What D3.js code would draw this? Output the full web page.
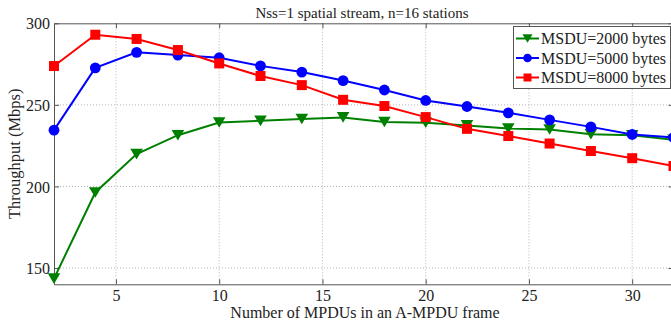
<!DOCTYPE html>
<html>
<head>
<meta charset="utf-8">
<script src="https://cdn.jsdelivr.net/npm/d3@7"></script>
<style>
  html, body { margin: 0; padding: 0; background: #fff; }
  svg { display: block; }
  text { font-family: "Liberation Serif", "DejaVu Serif", serif; fill: #222; }
</style>
</head>
<body>
<svg id="chart" width="671" height="324"></svg>
<script>
// ---- data ----
const mpdus = [2, 4, 6, 8, 10, 12, 14, 16, 18, 20, 22, 24, 26, 28, 30, 32];
const msdu2000 = [143.5, 196.3, 219.8, 231.4, 239.2, 240.2, 241.3, 242.3, 239.5, 239.0, 237.4, 235.5, 234.9, 232.0, 231.4, 228.6];
const msdu5000 = [234.5, 272.7, 282.2, 280.5, 278.9, 273.9, 270.1, 264.9, 259.1, 252.7, 249.0, 245.1, 240.8, 236.5, 231.9, 230.0];
const msdu8000 = [273.8, 293.0, 290.4, 283.6, 275.4, 267.7, 262.1, 253.1, 249.3, 242.5, 235.3, 230.9, 226.3, 221.7, 217.3, 212.5];
const seriesNames = ["MSDU=2000 bytes", "MSDU=5000 bytes", "MSDU=8000 bytes"];
const xTicks = [5, 10, 15, 20, 25, 30];
const yTicks = [150, 200, 250, 300];
const titleText = "Nss=1 spatial stream, n=16 stations";
const xLabel = "Number of MPDUs in an A-MPDU frame";
const yLabel = "Throughput (Mbps)";

// ---- layout ----
const svg = d3.select("#chart");
const L = 54, R = 673.5, T = 23.3, B = 284.3;
const x = d3.scaleLinear().domain([2, 32]).range([L, R]);
const y = d3.scaleLinear().domain([140, 300]).range([B, T]);

const series = [
  { name: seriesNames[0], values: msdu2000, color: "#008000", marker: "tri" },
  { name: seriesNames[1], values: msdu5000, color: "#0000ff", marker: "circle" },
  { name: seriesNames[2], values: msdu8000, color: "#ff0000", marker: "square" }
];

// grid
const grid = svg.append("g");
grid.selectAll("line.gx").data(xTicks).join("line")
  .attr("x1", d => x(d)).attr("x2", d => x(d))
  .attr("y1", T).attr("y2", B)
  .attr("stroke", "#b5b5b5").attr("stroke-width", 1).attr("stroke-dasharray", "1,2");
grid.selectAll("line.gy").data(yTicks.filter(v => v < 300)).join("line")
  .attr("x1", L).attr("x2", R)
  .attr("y1", d => y(d)).attr("y2", d => y(d))
  .attr("stroke", "#b5b5b5").attr("stroke-width", 1).attr("stroke-dasharray", "1,2");

// axes (inward ticks on all sides)
const axColor = "#555";
const xb = svg.append("g").attr("transform", `translate(0,${B})`)
  .call(d3.axisBottom(x).tickValues(xTicks).tickSizeInner(-5).tickSizeOuter(0).tickPadding(5));
const xt = svg.append("g").attr("transform", `translate(0,${T})`)
  .call(d3.axisTop(x).tickValues(xTicks).tickSizeInner(-5).tickSizeOuter(0).tickFormat(""));
const yl = svg.append("g").attr("transform", `translate(${L},0)`)
  .call(d3.axisLeft(y).tickValues(yTicks).tickSizeInner(-5).tickSizeOuter(0).tickPadding(4));
const yr = svg.append("g").attr("transform", `translate(${R},0)`)
  .call(d3.axisRight(y).tickValues(yTicks).tickSizeInner(-5).tickSizeOuter(0).tickFormat(""));
[xb, xt, yl, yr].forEach(g => {
  g.select(".domain").attr("stroke", axColor);
  g.selectAll(".tick line").attr("stroke", axColor);
  g.selectAll("text").attr("font-family", "Liberation Serif, serif").attr("font-size", 16).attr("fill", "#222");
});
xb.selectAll("text").attr("dy", "0.71em");
yl.selectAll("text").attr("dy", "0.35em");

// marker drawing
function drawMarker(g, type, cx, cy, color, s) {
  if (type === "circle") {
    g.append("circle").attr("cx", cx).attr("cy", cy).attr("r", 5.4 * s).attr("fill", color);
  } else if (type === "square") {
    const h = 5 * s;
    g.append("rect").attr("x", cx - h).attr("y", cy - h).attr("width", 2 * h).attr("height", 2 * h).attr("fill", color);
  } else {
    const w = 6.3 * s, h = 5.3 * s;
    g.append("path").attr("d", `M${cx - w},${cy - h}L${cx + w},${cy - h}L${cx},${cy + h}Z`).attr("fill", color);
  }
}

// lines and markers
const line = d3.line().x((d, i) => x(mpdus[i])).y(d => y(d));
series.forEach(s => {
  const g = svg.append("g");
  g.append("path").datum(s.values).attr("d", line)
    .attr("fill", "none").attr("stroke", s.color).attr("stroke-width", 2);
  s.values.forEach((v, i) => drawMarker(g, s.marker, x(mpdus[i]), y(v), s.color, 1));
});

// title & labels
svg.append("text").attr("x", 362).attr("y", 17.5).attr("text-anchor", "middle")
  .attr("font-size", 15).text(titleText);
svg.append("text").attr("x", 365).attr("y", 317.5).attr("text-anchor", "middle")
  .attr("font-size", 16).text(xLabel);
svg.append("text").attr("transform", `translate(20,${(T + B) / 2}) rotate(-90)`)
  .attr("text-anchor", "middle").attr("font-size", 16.5).text(yLabel);

// legend
const lg = svg.append("g");
lg.append("rect").attr("x", 513.5).attr("y", 26.5).attr("width", 157).attr("height", 62)
  .attr("fill", "#fff").attr("stroke", "#555").attr("stroke-width", 1);
const rowY = [38.5, 58, 77.5];
series.forEach((s, i) => {
  lg.append("line").attr("x1", 516).attr("x2", 539).attr("y1", rowY[i]).attr("y2", rowY[i])
    .attr("stroke", s.color).attr("stroke-width", 2);
  drawMarker(lg, s.marker, 527.5, rowY[i], s.color, 0.8);
  lg.append("text").attr("x", 541).attr("y", rowY[i]).attr("dy", "0.35em")
    .attr("font-size", 16).text(s.name);
});
</script>
</body>
</html>
